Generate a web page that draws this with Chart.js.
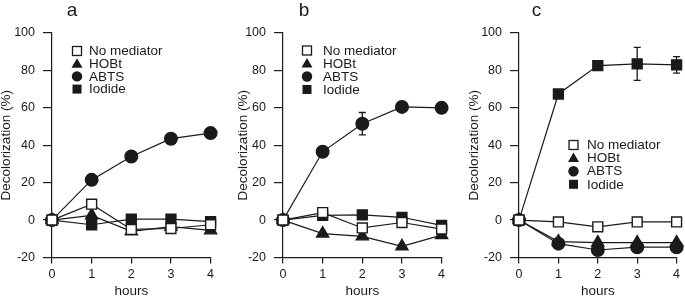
<!DOCTYPE html>
<html><head><meta charset="utf-8">
<script src="https://cdn.jsdelivr.net/npm/chart.js@4.4.1/dist/chart.umd.min.js"></script>
<style>
html,body{margin:0;padding:0;background:#fff;overflow:hidden;width:685px;height:296px}
canvas{position:absolute;top:0}
</style></head><body>
<canvas id="ca" width="219" height="296" style="left:0px"></canvas>
<canvas id="cb" width="213" height="296" style="left:237px"></canvas>
<canvas id="cc" width="217" height="296" style="left:468px"></canvas>
<script>
// ---- data ----
const hours = [0, 1, 2, 3, 4];
const seriesNames = ['No mediator', 'HOBt', 'ABTS', 'Iodide'];
const yTicks = [-20, 0, 20, 40, 60, 80, 100];
const panelLetters = ['a', 'b', 'c'];

// panel a
const noMediatorA = [0, 8.5, -5, -4.5, -2.5];
const hobtA       = [0, 2.5, -6, -3.5, -5.5];
const abtsA       = [0, 21.5, 34, 43.5, 46.5];
const iodideA     = [0, -2.5, 0.5, 0.5, -0.8];

// panel b
const noMediatorB = [0, 4, -4.2, -1.3, -4.8];
const hobtB       = [0, -7.2, -8.7, -14, -8];
const abtsB       = [0, 36.5, 51.5, 60.5, 60];
const abtsErrB    = [0, 0, 6, 0, 0];
const iodideB     = [0, 2.5, 2.8, 1.5, -2.8];

// panel c
const noMediatorC = [0, -1, -3.6, -1, -1];
const hobtC       = [0, -11.5, -12, -12, -12];
const abtsC       = [0, -12.6, -16, -14.5, -14.5];
const iodideC     = [0, 67.4, 82.6, 83.5, 83];
const iodideErrC  = [0, 1.5, 1.5, 8.8, 4.4];

// ---- styles ----
const FONT = '"Liberation Sans", Arial, Helvetica, sans-serif';
const INK = '#1a1a1a';
const markerStyles = [
  {pointStyle: 'rect', radius: 7, fill: '#ffffff'},
  {pointStyle: 'triangle', radius: 7, fill: INK},
  {pointStyle: 'circle', radius: 6.3, fill: INK},
  {pointStyle: 'rect', radius: 7, fill: INK}
];

function makeDataset(i, vals, errs) {
  const s = markerStyles[i];
  return {
    label: seriesNames[i],
    data: hours.map((h, k) => ({x: h, y: vals[k]})),
    errors: errs || null,
    borderColor: INK,
    borderWidth: 1.2,
    tension: 0,
    pointStyle: s.pointStyle,
    pointRadius: s.radius,
    pointHoverRadius: s.radius,
    pointBackgroundColor: s.fill,
    pointBorderColor: INK,
    pointBorderWidth: 1.4,
    clip: false
  };
}

const errorBarPlugin = {
  id: 'errorBars',
  afterDatasetsDraw(chart) {
    const ctx = chart.ctx;
    const ys = chart.scales.y;
    chart.data.datasets.forEach((ds, i) => {
      if (!ds.errors) return;
      const meta = chart.getDatasetMeta(i);
      ctx.save();
      ctx.strokeStyle = INK; ctx.lineWidth = 1.3;
      ds.errors.forEach((e, k) => {
        if (!e) return;
        const v = ds.data[k].y;
        const x = meta.data[k].x;
        const y1 = ys.getPixelForValue(v + e), y2 = ys.getPixelForValue(v - e);
        ctx.beginPath();
        ctx.moveTo(x, y1); ctx.lineTo(x, y2);
        ctx.moveTo(x - 3.5, y1); ctx.lineTo(x + 3.5, y1);
        ctx.moveTo(x - 3.5, y2); ctx.lineTo(x + 3.5, y2);
        ctx.stroke();
      });
      ctx.restore();
    });
  }
};

function drawLegendMarker(ctx, i, x, y) {
  ctx.save();
  ctx.fillStyle = INK; ctx.strokeStyle = INK; ctx.lineWidth = 1.3;
  if (i === 0) { ctx.fillStyle = '#fff'; ctx.fillRect(x - 4.5, y - 4.5, 9, 9); ctx.strokeRect(x - 4.5, y - 4.5, 9, 9); }
  else if (i === 1) { ctx.beginPath(); ctx.moveTo(x, y - 5.5); ctx.lineTo(x + 5.5, y + 4); ctx.lineTo(x - 5.5, y + 4); ctx.closePath(); ctx.fill(); }
  else if (i === 2) { ctx.beginPath(); ctx.arc(x, y, 5.2, 0, Math.PI * 2); ctx.fill(); }
  else { ctx.fillRect(x - 4.5, y - 4.5, 9, 9); }
  ctx.restore();
}

const panelDecorPlugin = {
  id: 'panelDecor',
  afterDraw(chart, args, o) {
    const ctx = chart.ctx;
    ctx.save();
    ctx.fillStyle = INK;
    ctx.font = '19px ' + FONT;
    ctx.textAlign = 'center'; ctx.textBaseline = 'alphabetic';
    ctx.fillText(o.letter, o.letterX, o.letterY);
    ctx.font = '13.5px ' + FONT;
    ctx.textAlign = 'left'; ctx.textBaseline = 'middle';
    seriesNames.forEach((n, i) => {
      const y = o.y0 + i * o.dy;
      drawLegendMarker(ctx, i, o.mx, y);
      ctx.fillStyle = INK;
      ctx.fillText(n, o.tx, y + 0.5);
    });
    ctx.restore();
  }
};

function makeChart(id, datasets, yWidth, padRight, decor) {
  return new Chart(document.getElementById(id), {
    type: 'line',
    data: {datasets},
    options: {
      responsive: false,
      animation: false,
      events: [],
      layout: {padding: {top: 33, right: padRight, bottom: 0, left: 0}},
      plugins: {legend: {display: false}, tooltip: {enabled: false}, panelDecor: decor},
      scales: {
        x: {
          type: 'linear', min: 0, max: 4,
          afterFit(s) { s.height = 38.5; },
          afterBuildTicks(s) { s.ticks = hours.map(v => ({value: v})); },
          grid: {drawOnChartArea: false, drawTicks: true, tickLength: 6, color: INK, lineWidth: 1.2},
          border: {display: true, color: INK, width: 1.2},
          ticks: {color: INK, font: {family: FONT, size: 12.5}, padding: 4},
          title: {display: true, text: 'hours', color: INK, font: {family: FONT, size: 13.5, lineHeight: '10px'}, padding: 0}
        },
        y: {
          type: 'linear', min: -20, max: 100,
          afterFit(s) { s.width = yWidth; },
          afterBuildTicks(s) { s.ticks = yTicks.map(v => ({value: v})); },
          grid: {drawOnChartArea: false, drawTicks: true, tickLength: 9, color: INK, lineWidth: 1.2},
          border: {display: true, color: INK, width: 1.2},
          ticks: {color: INK, font: {family: FONT, size: 12.5}, padding: 8},
          title: {display: true, text: 'Decolorization (%)', color: INK, font: {family: FONT, size: 13.5, lineHeight: '12px'}, padding: 0}
        }
      }
    },
    plugins: [errorBarPlugin, panelDecorPlugin]
  });
}

makeChart('ca', [
  makeDataset(0, noMediatorA), makeDataset(1, hobtA), makeDataset(2, abtsA), makeDataset(3, iodideA)
], 52, 8, {letter: panelLetters[0], letterX: 72, letterY: 16, mx: 77, tx: 89, y0: 51, dy: 12.7});

makeChart('cb', [
  makeDataset(0, noMediatorB), makeDataset(1, hobtB), makeDataset(2, abtsB, abtsErrB), makeDataset(3, iodideB)
], 46, 8, {letter: panelLetters[1], letterX: 67, letterY: 16, mx: 70, tx: 86, y0: 50.5, dy: 13});

makeChart('cc', [
  makeDataset(0, noMediatorC), makeDataset(1, hobtC), makeDataset(2, abtsC), makeDataset(3, iodideC, iodideErrC)
], 51, 7, {letter: panelLetters[2], letterX: 68.5, letterY: 16, mx: 105.5, tx: 119, y0: 145, dy: 13.1});
</script>
</body></html>
